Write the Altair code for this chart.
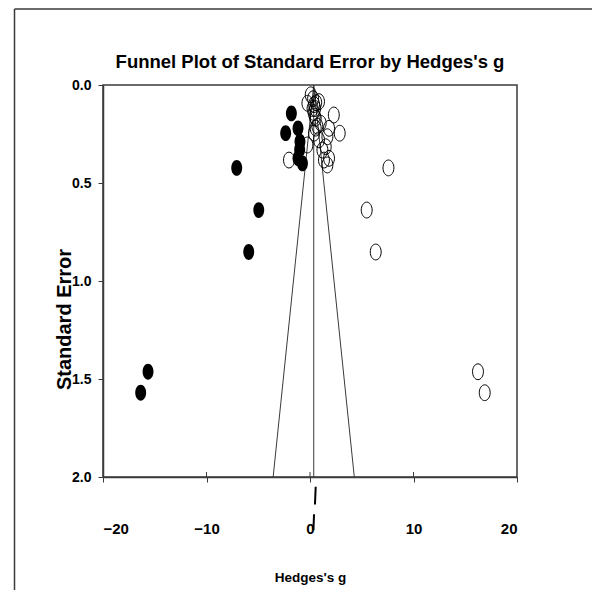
import altair as alt
import pandas as pd

# Observed studies (open circles)
obs_g = [16.23, 16.88, 7.58, 5.48, 6.35, 2.30, 2.87, 1.84, 1.68, 1.52, 1.20, 1.35, 1.84, 1.68,
         -2.03, -0.25, 0.07, -0.25, 0.87, 0.55, 0.71, 0.39, 1.03, 0.87, 0.30, 0.40, 0.50, 0.35,
         0.45, 0.60, 0.25, 0.55]
obs_se = [1.463, 1.570, 0.423, 0.638, 0.852, 0.153, 0.246, 0.221, 0.264, 0.315, 0.332, 0.383, 0.374, 0.408,
          0.383, 0.306, 0.050, 0.093, 0.085, 0.170, 0.210, 0.246, 0.195, 0.280, 0.070, 0.100, 0.120, 0.140,
          0.160, 0.090, 0.120, 0.220]

# Imputed studies (filled circles)
imp_g = [-15.65, -16.36, -7.08, -4.95, -5.92, -1.80, -2.35, -1.16, -0.97, -1.16, -0.73, -1.00]
imp_se = [1.463, 1.570, 0.423, 0.638, 0.852, 0.145, 0.246, 0.221, 0.289, 0.374, 0.400, 0.330]

# Funnel (pseudo 95% limits) and combined effect
funnel_g = [-3.56, 0.36, 4.28]
funnel_se = [2.0, 0.0, 2.0]
center_g = [0.36]

# Combined-effect diamonds drawn beneath the axis
dia_g = [0.55, 0.39]
dia_g2 = [0.48, 0.33]
dia_se = [2.05, 2.19]
dia_se2 = [2.14, 2.27]

x_ticks = [-20, -10, 0, 10, 20]
y_ticks = [0.0, 0.5, 1.0, 1.5, 2.0]
title_text = ["Funnel Plot of Standard Error by Hedges's g"]

W, H = 414, 392
FONT = "Liberation Sans, Arial, sans-serif"
LINE = "#3a3a3a"
ELLIPSE = "M-0.69,0A0.69,1,0,1,1,0.69,0A0.69,1,0,1,1,-0.69,0Z"

xs = alt.Scale(domain=[-20, 20], nice=False, zero=False)
ys = alt.Scale(domain=[0, 2], nice=False, reverse=True)

x_axis = alt.Axis(values=x_ticks, format="d", title="Hedges's g", grid=False,
                  tickSize=5, labelPadding=39, labelBaseline="top", labelFontSize=15,
                  titleX=W / 2, titleY=100, titleBaseline="middle", titleAlign="center",
                  titleFontSize=13.5)
y_axis = alt.Axis(values=y_ticks, format=".1f", title="Standard Error", grid=False,
                  tickSize=5, labelPadding=7, labelFontSize=14,
                  titleX=-39, titleY=234, titleAngle=270, titleBaseline="middle",
                  titleAlign="center", titleFontSize=20)

one = pd.DataFrame({"k": [0]})

frame_left = alt.Chart(one).mark_rule(color=LINE, strokeWidth=1.5).encode(
    x=alt.value(-88.5), y=alt.value(-76), y2=alt.value(505))
frame_top = alt.Chart(one).mark_rule(color=LINE, strokeWidth=1.5).encode(
    x=alt.value(-88.5), x2=alt.value(489), y=alt.value(-76))

title_df = pd.DataFrame({"t": title_text})
title = alt.Chart(title_df).mark_text(font=FONT, fontSize=18.5, fontWeight="bold", color="black",
                                      align="center", baseline="middle").encode(
    x=alt.value(W / 2), y=alt.value(-23), text="t:N")

funnel_df = pd.DataFrame({"g": funnel_g, "se": funnel_se, "o": [0, 1, 2]})
funnel = alt.Chart(funnel_df).mark_line(color=LINE, strokeWidth=1).encode(
    x=alt.X("g:Q", scale=xs, axis=x_axis),
    y=alt.Y("se:Q", scale=ys, axis=y_axis),
    order="o:Q")

center_df = pd.DataFrame({"g": center_g, "s0": [0.0], "s1": [2.0]})
center = alt.Chart(center_df).mark_rule(color=LINE, strokeWidth=1).encode(
    x=alt.X("g:Q", scale=xs), y=alt.Y("s0:Q", scale=ys), y2="s1:Q")

obs_df = pd.DataFrame({"g": obs_g, "se": obs_se})
obs = alt.Chart(obs_df).mark_point(shape=ELLIPSE, size=250, filled=False, color="black",
                                   strokeWidth=1, opacity=1).encode(
    x=alt.X("g:Q", scale=xs), y=alt.Y("se:Q", scale=ys))

imp_df = pd.DataFrame({"g": imp_g, "se": imp_se})
imp = alt.Chart(imp_df).mark_point(shape=ELLIPSE, size=250, filled=True, color="black",
                                   opacity=1).encode(
    x=alt.X("g:Q", scale=xs), y=alt.Y("se:Q", scale=ys))

dia_df = pd.DataFrame({"g": dia_g, "g2": dia_g2, "se": dia_se, "se2": dia_se2})
dia = alt.Chart(dia_df).mark_rule(color="black", strokeWidth=2).encode(
    x=alt.X("g:Q", scale=xs), x2="g2:Q", y=alt.Y("se:Q", scale=ys), y2="se2:Q")

inner_df = pd.DataFrame({"g": [-10, 0, 10]})
inner_ticks = alt.Chart(inner_df).mark_rule(color=LINE, strokeWidth=1).encode(
    x=alt.X("g:Q", scale=xs), y=alt.value(H - 5), y2=alt.value(H))

chart = alt.layer(frame_left, frame_top, title, funnel, center, inner_ticks, obs, imp, dia).properties(
    width=W, height=H,
    padding={"left": 5, "top": 0, "right": 0, "bottom": 0},
    background="white",
).configure_axis(
    domainColor=LINE, domainWidth=1.5, tickColor=LINE, tickWidth=1,
    labelFont=FONT, labelFontWeight="bold", labelColor="black",
    titleFont=FONT, titleFontWeight="bold", titleColor="black",
).configure_view(stroke=LINE, strokeWidth=1.5)

chart.save("out.html", embed_options={"renderer": "svg", "actions": False})
